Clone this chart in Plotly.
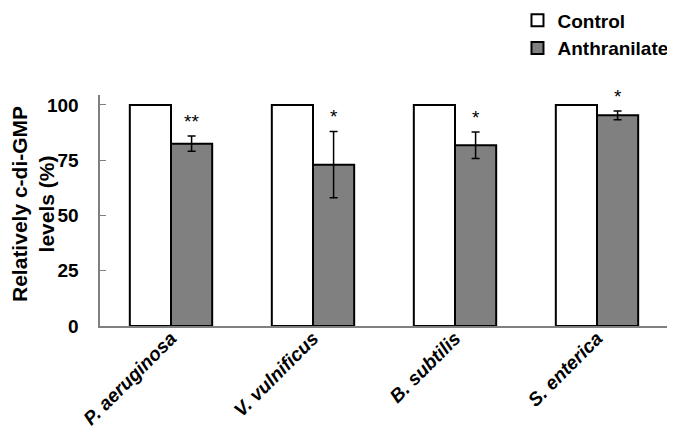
import plotly.graph_objects as go

categories = ["P. aeruginosa", "V. vulnificus", "B. subtilis", "S. enterica"]
control = [100, 100, 100, 100]
anthranilate = [82.5, 73, 81.8, 95.3]
anthranilate_err = [3.5, 15, 6, 2]
signif = ["**", "*", "*", "*"]
y_ticks = [0, 25, 50, 75, 100]
series_names = ["Control", "Anthranilate"]
y_title = "Relatively c-di-GMP<br>levels (%)"

FONT = "Arial, Liberation Sans, sans-serif"
tick_text = ["<b><i>%s</i></b>" % c for c in categories]
xs = list(range(len(categories)))
NBSP = "\u00a0"

fig = go.Figure()
fig.add_trace(go.Bar(
    x=xs, y=control, name="<b>%s</b>" % series_names[0],
    marker=dict(color="white", line=dict(color="black", width=2)),
))
fig.add_trace(go.Bar(
    x=xs, y=anthranilate, name="<b>%s</b>" % series_names[1],
    marker=dict(color="#808080", line=dict(color="black", width=2)),
    error_y=dict(type="data", array=anthranilate_err, color="black", thickness=1.5, width=4),
))

for i, (v, e, s) in enumerate(zip(anthranilate, anthranilate_err, signif)):
    fig.add_annotation(x=i, y=v + e, text=s, showarrow=False, xshift=20.5,
                       yanchor="bottom", yshift=2,
                       font=dict(family=FONT, size=19, color="black"))

# y-axis title as rotated annotation
fig.add_annotation(x=-0.119, y=0.53, xref="paper", yref="paper",
                   text="<b>%s</b>" % y_title, textangle=-90, showarrow=False,
                   xanchor="center", yanchor="middle",
                   font=dict(family=FONT, size=21, color="black"))

fig.update_layout(
    width=675, height=434,
    margin=dict(l=92, r=15, t=87, b=116, autoexpand=False),
    paper_bgcolor="white", plot_bgcolor="white",
    barmode="group", bargap=0.42, bargroupgap=0,
    font=dict(family=FONT, color="black"),
    showlegend=True,
    legend=dict(x=0.735, y=1.405, xanchor="left", yanchor="top",
                font=dict(size=19, family=FONT),
                tracegroupgap=0, itemwidth=30, bgcolor="rgba(0,0,0,0)"),
)
fig.update_xaxes(
    range=[-0.5, 3.5], tickvals=xs, ticktext=tick_text, tickangle=-45,
    showline=True, linecolor="#808080", linewidth=1.5, ticks="",
    tickfont=dict(size=19, family=FONT, color="black"),
    ticklabelstandoff=-8,
    showgrid=False, zeroline=False, automargin=False,
)
fig.update_yaxes(
    range=[0, 104.5], tickvals=y_ticks,
    ticktext=["<b>%d</b>%s" % (t, NBSP * 3) for t in y_ticks],
    showline=True, linecolor="#808080", linewidth=1.5,
    ticks="inside", ticklen=6, tickcolor="#808080",
    tickfont=dict(size=19, family=FONT, color="black"),
    showgrid=False, zeroline=False, automargin=False,
)

fig.write_html("out.html")
